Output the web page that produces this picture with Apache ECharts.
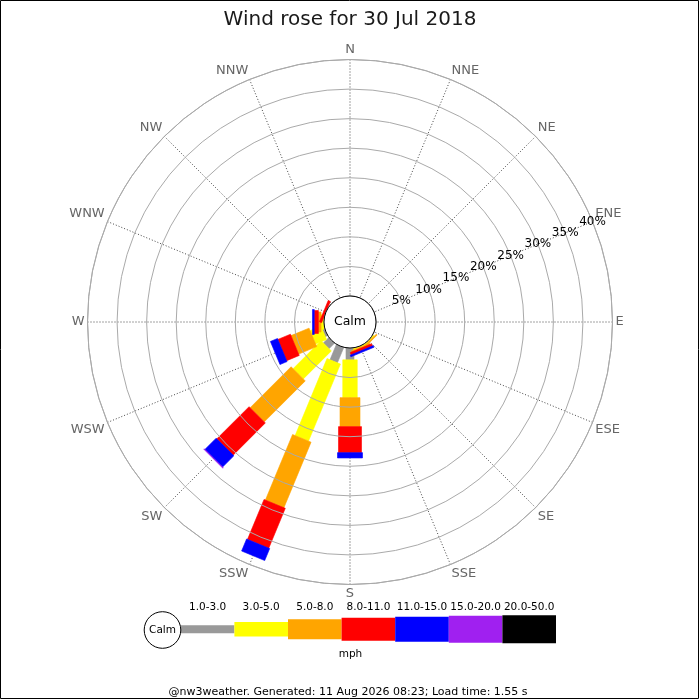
<!DOCTYPE html>
<html>
<head>
<meta charset="utf-8">
<script src="https://cdn.jsdelivr.net/npm/echarts@6/dist/echarts.min.js"></script>
<style>
  html, body { margin: 0; padding: 0; background: #fff; }
  #rose { width: 700px; height: 700px; }
</style>
</head>
<body>
<div id="rose"></div>
<script>
// directions, clockwise from north
const directions = ['N', 'NNE', 'NE', 'ENE', 'E', 'ESE', 'SE', 'SSE',
  'S', 'SSW', 'SW', 'WSW', 'W', 'WNW', 'NW', 'NNW']
const speedBins = ['1.0-3.0', '3.0-5.0', '5.0-8.0', '8.0-11.0', '11.0-15.0', '15.0-20.0', '20.0-50.0']
const radiusTicks = [0, 5, 10, 15, 20, 25, 30, 35, 40]

// % of time per direction, one array per speed bin (mph)
const speed1to3 =   [0, 0, 0, 0, 0, 0, 0,   0,   2.0, 2.8,  1.3, 0.4, 0,    0,   0, 0]
const speed3to5 =   [0, 0, 0, 0, 0, 0, 0.2, 0.2, 6.4, 14.1, 6.7, 2.0, 0.5,  0,   0, 0]
const speed5to8 =   [0, 0, 0, 0, 0, 0, 0.2, 0.2, 4.9, 12.0, 9.8, 3.3, 0.45, 0,   0, 0]
const speed8to11 =  [0, 0, 0, 0, 0, 0, 0,   0.4, 4.4, 7.3,  7.7, 2.3, 0.7,  0.4, 0, 0]
const speed11to15 = [0, 0, 0, 0, 0, 0, 0,   0.3, 0.9, 2.2,  2.7, 1.3, 0.3,  0,   0, 0]
const speed15to20 = [0, 0, 0, 0, 0, 0, 0,   0,   0,   0,    0.1, 0,   0,    0,   0, 0]
const speed20to50 = [0, 0, 0, 0, 0, 0, 0,   0,   0,   0,    0,   0,   0,    0,   0, 0]

const binValues = [speed1to3, speed3to5, speed5to8, speed8to11, speed11to15, speed15to20, speed20to50]
const binColors = ['#999999', '#ffff00', '#ffa500', '#ff0000', '#0000ff', '#a020f0', '#000000']
const binWidths = [8, 14.5, 20, 23, 25, 27, 28]

;(function () {
  windRoseChart()
})()

// angle axis value 0 sits on ENE so the % labels run along that spoke
function dirToAngle(i) {
  return ((i - 3) * 22.5 + 360) % 360
}

function renderBar(params, api) {
  let r1 = api.value(0)
  let ang = api.value(1)
  let r0 = api.value(2)
  let k = api.value(3)
  let a = api.coord([r0, ang])
  let b = api.coord([r1, ang])
  let c = api.coord([0, ang])
  let d = api.coord([40, ang])
  let len = Math.hypot(d[0] - c[0], d[1] - c[1])
  let ux = (d[0] - c[0]) / len
  let uy = (d[1] - c[1]) / len
  let h = binWidths[k] / 2
  let nx = -uy * h
  let ny = ux * h
  return {
    type: 'polygon',
    shape: {
      points: [
        [a[0] + nx, a[1] + ny],
        [b[0] + nx, b[1] + ny],
        [b[0] - nx, b[1] - ny],
        [a[0] - nx, a[1] - ny],
      ],
    },
    style: { fill: binColors[k], stroke: binColors[k], lineWidth: 0.6 },
  }
}

function windRoseChart() {
  let chart = echarts.init(document.getElementById('rose'))

  // stack the bins outward from the calm circle
  let cum = directions.map(() => 0)
  let series = speedBins.map((name, k) => {
    let data = []
    directions.forEach((dir, i) => {
      let v = binValues[k][i]
      if (v > 0) {
        data.push([cum[i] + v, dirToAngle(i), cum[i], k])
        cum[i] += v
      }
    })
    return {
      name: name,
      type: 'custom',
      coordinateSystem: 'polar',
      renderItem: renderBar,
      clip: false,
      silent: true,
      z: 3,
      data: data,
    }
  })

  // legend strip at the bottom
  let legendItems = [
    {
      type: 'circle',
      shape: { cx: 162.5, cy: 630, r: 18.3 },
      style: { fill: '#fff', stroke: '#000', lineWidth: 1 },
      z: 5,
    },
    {
      type: 'text',
      x: 162.5,
      y: 630,
      style: { text: 'Calm', fontSize: 10.5, fontFamily: 'DejaVu Sans', fill: '#000', align: 'center', verticalAlign: 'middle' },
      z: 6,
    },
  ]
  let x0 = 180.8
  let step = 53.6
  speedBins.forEach((name, k) => {
    let x = x0 + k * step
    legendItems.push({
      type: 'rect',
      shape: { x: x, y: 629.3 - binWidths[k] / 2, width: step, height: binWidths[k] },
      style: { fill: binColors[k] },
      z: 4,
    })
    legendItems.push({
      type: 'text',
      x: x + step / 2,
      y: 607,
      style: { text: name, fontSize: 10.5, fontFamily: 'DejaVu Sans', fill: '#000', align: 'center', verticalAlign: 'middle' },
    })
  })
  legendItems.push({
    type: 'text',
    x: 350.5,
    y: 654,
    style: { text: 'mph', fontSize: 10.5, fontFamily: 'DejaVu Sans', fill: '#000', align: 'center', verticalAlign: 'middle' },
  })

  let option = {
    animation: false,
    backgroundColor: '#fff',
    title: {
      text: 'Wind rose for 30 Jul 2018',
      left: 'center',
      top: 5,
      textStyle: { fontFamily: 'DejaVu Sans', fontSize: 20, fontWeight: 'normal', color: '#1a1a1a' },
    },
    polar: {
      center: [350, 322],
      radius: [26, 262.5],
    },
    angleAxis: {
      type: 'value',
      min: 0,
      max: 360,
      interval: 22.5,
      startAngle: 22.5,
      clockwise: true,
      axisLine: { show: true, lineStyle: { color: '#aaaaaa', width: 1 } },
      axisTick: { show: false },
      axisLabel: {
        margin: 3,
        hideOverlap: false,
        fontFamily: 'DejaVu Sans',
        fontSize: 13,
        color: '#666666',
        formatter: (v) => directions[Math.round(v / 22.5 + 3) % 16],
      },
      splitLine: { show: true, lineStyle: { color: '#444444', type: [1, 2], width: 1 } },
    },
    radiusAxis: {
      type: 'value',
      min: radiusTicks[0],
      max: radiusTicks[radiusTicks.length - 1],
      interval: radiusTicks[1] - radiusTicks[0],
      axisLine: { show: false },
      axisTick: { show: false },
      axisLabel: {
        margin: 0,
        align: 'center',
        verticalAlign: 'middle',
        showMaxLabel: true,
        hideOverlap: false,
        fontFamily: 'DejaVu Sans',
        fontSize: 12,
        lineHeight: 10,
        color: '#000',
        formatter: (v) => (v === 0 ? '' : v + '%'),
      },
      splitLine: { show: true, lineStyle: { color: '#aaaaaa', width: 1 } },
      z: 4,
    },
    series: series,
    graphic: [
      {
        type: 'circle',
        shape: { cx: 350, cy: 322, r: 26 },
        style: { fill: '#fff', stroke: '#000', lineWidth: 1 },
        z: 10,
      },
      {
        type: 'text',
        x: 350,
        y: 322,
        style: { text: 'Calm', fontSize: 12.5, fontFamily: 'DejaVu Sans', fill: '#000', align: 'center', verticalAlign: 'middle' },
        z: 11,
      },
      ...legendItems,
      {
        type: 'text',
        x: 348,
        y: 692,
        style: {
          text: '@nw3weather. Generated: 11 Aug 2026 08:23; Load time: 1.55 s',
          fontSize: 11,
          fontFamily: 'DejaVu Sans',
          fill: '#000',
          align: 'center',
          verticalAlign: 'middle',
        },
      },
      {
        type: 'rect',
        shape: { x: 0.5, y: 0.5, width: 698, height: 698 },
        style: { fill: 'none', stroke: '#000', lineWidth: 1 },
        z: 20,
      },
    ],
  }
  chart.setOption(option)
}
</script>
</body>
</html>
